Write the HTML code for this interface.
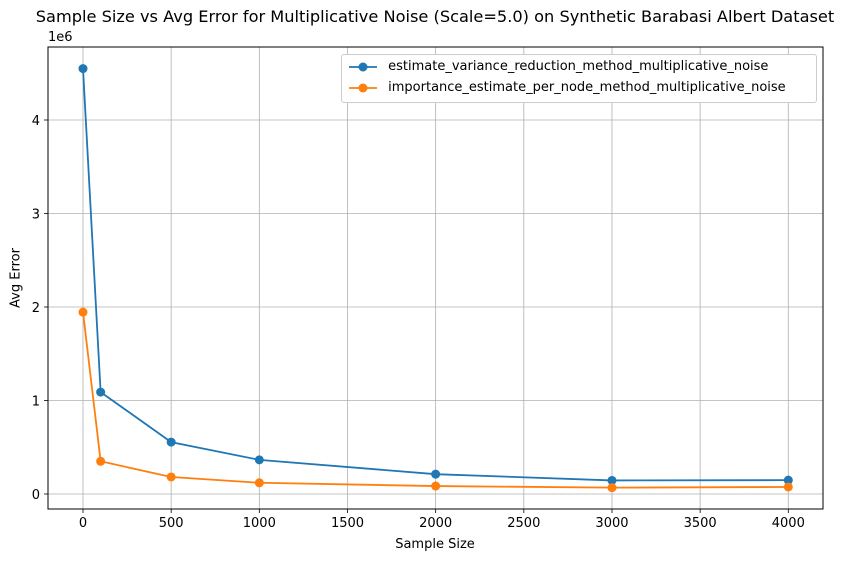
<!DOCTYPE html>
<html><head><meta charset="utf-8"><style>
body{margin:0;background:#fff;font-family:"Liberation Sans","DejaVu Sans",sans-serif;}
svg text{font-family:"DejaVu Sans","Liberation Sans",sans-serif;}
</style></head><body>
<svg id="chart" width="855" height="562" xmlns="http://www.w3.org/2000/svg"></svg>
<script>
const xValues=[0,100,500,1000,2000,3000,4000];
const seriesA=[4.55e6,1.09e6,0.555e6,0.365e6,0.212e6,0.145e6,0.148e6];
const seriesB=[1.945e6,0.35e6,0.182e6,0.12e6,0.085e6,0.068e6,0.075e6];
const seriesNames=["estimate_variance_reduction_method_multiplicative_noise","importance_estimate_per_node_method_multiplicative_noise"];
const xTicks=[0,500,1000,1500,2000,2500,3000,3500,4000];
const yTicks=[0,1,2,3,4];
const NS="http://www.w3.org/2000/svg";
const svg=document.getElementById('chart');
const L=48,R=823,T=47,B=509;
const sx=v=>83+(v/4000)*(788.3-83);
const sy=v=>494-(v/1e6)*93.5;
function mk(t,a,p){const e=document.createElementNS(NS,t);for(const k in a)e.setAttribute(k,a[k]);(p||svg).appendChild(e);return e;}
const grid=mk('g',{});


xTicks.forEach(v=>{const x=sx(v);
 mk('line',{x1:x,x2:x,y1:T,y2:B,stroke:'#b0b0b0','stroke-width':0.8},grid);
 mk('line',{x1:x,x2:x,y1:B,y2:B+4,stroke:'#000','stroke-width':0.8});
 const t=mk('text',{x:x,y:B+18,'text-anchor':'middle','font-size':13});t.textContent=v;
 
 });
yTicks.forEach(v=>{const y=sy(v*1e6);
 mk('line',{x1:L,x2:R,y1:y,y2:y,stroke:'#b0b0b0','stroke-width':0.8},grid);
 mk('line',{x1:L-4,x2:L,y1:y,y2:y,stroke:'#000','stroke-width':0.8});
 const t=mk('text',{x:L-8,y:y+5,'text-anchor':'end','font-size':13});t.textContent=v;
 
 });
const colors=['#1f77b4','#ff7f0e'];
[seriesA,seriesB].forEach((s,i)=>{
 const g=mk('g',{});
 
 
 mk('polyline',{points:s.map((v,j)=>sx(xValues[j])+','+sy(v)).join(' '),fill:'none',stroke:colors[i],'stroke-width':1.8},g);
 s.forEach((v,j)=>{const c=mk('circle',{cx:sx(xValues[j]),cy:sy(v),r:4.5,fill:colors[i]},g);
  
  });
});
mk('rect',{x:L,y:T,width:R-L,height:B-T,fill:'none',stroke:'#000','stroke-width':1});
</script>
<div style="position:absolute;left:0;top:0;width:855px;height:562px;pointer-events:none;font-family:'DejaVu Sans','Liberation Sans',sans-serif;">
<div style="position:absolute;left:435px;transform:translateX(-50%);top:7px;white-space:nowrap;font-size:16.2px;">Sample Size vs Avg Error for Multiplicative Noise (Scale=5.0) on Synthetic Barabasi Albert Dataset</div>
<div style="position:absolute;left:48px;top:30px;font-size:13px;">1e6</div>
<div style="position:absolute;left:435px;transform:translateX(-50%);top:537px;font-size:13px;">Sample Size</div>
<div style="position:absolute;left:16px;top:278px;font-size:13px;transform:translate(-50%,-50%) rotate(-90deg);white-space:nowrap;">Avg Error</div>
<div style="position:absolute;left:341px;top:54px;width:474px;height:47px;border:1px solid #ccc;border-radius:3px;background:#fff;font-size:13px;">
 <div style="position:absolute;left:6px;top:4px;white-space:nowrap;"><svg width="30" height="12" style="vertical-align:middle"><line x1="1" y1="6" x2="29" y2="6" stroke="#1f77b4" stroke-width="1.8"/><circle cx="15" cy="6" r="4.5" fill="#1f77b4"/></svg> <span style="margin-left:6px">estimate_variance_reduction_method_multiplicative_noise</span></div>
 <div style="position:absolute;left:6px;top:25px;white-space:nowrap;"><svg width="30" height="12" style="vertical-align:middle"><line x1="1" y1="6" x2="29" y2="6" stroke="#ff7f0e" stroke-width="1.8"/><circle cx="15" cy="6" r="4.5" fill="#ff7f0e"/></svg> <span style="margin-left:6px">importance_estimate_per_node_method_multiplicative_noise</span></div>
</div>
</div>
</body></html>
